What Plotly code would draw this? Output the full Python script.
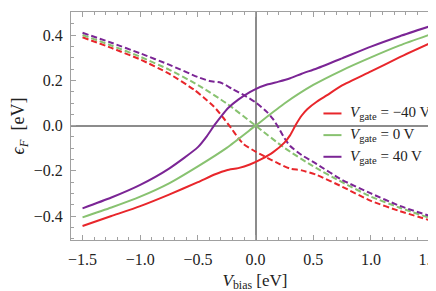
import plotly.graph_objects as go

# ---------------- data ----------------
gate_labels = ["−40", "0", "40"]
colors = ["#e8262b", "#88c270", "#7b2595"]

# solid curves
x_red_s = [-1.5, -1.25, -1.0, -0.75, -0.5, -0.35, -0.25, -0.15, -0.05, 0.05, 0.15, 0.25, 0.3, 0.35, 0.4, 0.45, 0.53, 0.62, 0.75, 1.0, 1.25, 1.5]
y_red_s = [-0.444, -0.400, -0.356, -0.305, -0.250, -0.215, -0.197, -0.188, -0.172, -0.148, -0.118, -0.075, -0.042, 0.005, 0.045, 0.074, 0.106, 0.135, 0.178, 0.240, 0.303, 0.362]

x_green_s = [-1.5, -1.25, -1.0, -0.75, -0.5, -0.25, 0.0, 0.25, 0.5, 0.75, 1.0, 1.25, 1.5]
y_green_s = [-0.406, -0.362, -0.314, -0.255, -0.180, -0.098, 0.0, 0.098, 0.180, 0.245, 0.302, 0.355, 0.401]

x_purple_s = [-1.5, -1.25, -1.0, -0.75, -0.5, -0.42, -0.36, -0.3, -0.24, -0.15, -0.05, 0.0, 0.1, 0.2, 0.3, 0.4, 0.53, 0.75, 1.0, 1.25, 1.5]
y_purple_s = [-0.366, -0.318, -0.262, -0.190, -0.095, -0.045, 0.0, 0.040, 0.077, 0.115, 0.148, 0.162, 0.182, 0.195, 0.210, 0.230, 0.253, 0.298, 0.350, 0.396, 0.438]

# dashed curves
x_red_d = [-1.5, -1.25, -1.0, -0.75, -0.53, -0.45, -0.36, -0.28, -0.21, -0.15, -0.1, 0.0, 0.1, 0.2, 0.3, 0.4, 0.53, 0.75, 1.0, 1.25, 1.5]
y_red_d = [0.391, 0.344, 0.293, 0.230, 0.158, 0.125, 0.084, 0.035, -0.012, -0.055, -0.083, -0.115, -0.142, -0.168, -0.190, -0.198, -0.218, -0.270, -0.333, -0.378, -0.417]

x_green_d = [-1.5, -1.25, -1.0, -0.75, -0.5, -0.25, 0.0, 0.25, 0.5, 0.75, 1.0, 1.25, 1.5]
y_green_d = [0.401, 0.355, 0.305, 0.248, 0.180, 0.098, 0.0, -0.098, -0.180, -0.250, -0.314, -0.363, -0.407]

x_purple_d = [-1.5, -1.25, -1.0, -0.75, -0.5, -0.4, -0.3, -0.2, -0.1, 0.0, 0.1, 0.15, 0.2, 0.25, 0.3, 0.4, 0.53, 0.75, 1.0, 1.25, 1.5]
y_purple_d = [0.411, 0.367, 0.320, 0.270, 0.215, 0.198, 0.190, 0.162, 0.135, 0.103, 0.060, 0.030, -0.010, -0.055, -0.090, -0.130, -0.170, -0.240, -0.300, -0.355, -0.398]

x_ticks = [-1.5, -1.0, -0.5, 0.0, 0.5, 1.0, 1.5]
y_ticks = [-0.4, -0.2, 0.0, 0.2, 0.4]

# ---------------- figure ----------------
FONT = "Liberation Serif, Times New Roman, serif"
TXT = "#222222"
fig = go.Figure()

solid = [(x_red_s, y_red_s), (x_green_s, y_green_s), (x_purple_s, y_purple_s)]
dashed = [(x_red_d, y_red_d), (x_green_d, y_green_d), (x_purple_d, y_purple_d)]

for (xs, ys), c in zip(dashed, colors):
    fig.add_trace(go.Scatter(x=xs, y=ys, mode="lines", showlegend=False,
                             line=dict(color=c, width=2, dash="6px,3px", shape="spline", smoothing=0.6)))
for (xs, ys), c in zip(solid, colors):
    fig.add_trace(go.Scatter(x=xs, y=ys, mode="lines", showlegend=False,
                             line=dict(color=c, width=2, shape="spline", smoothing=0.6)))

# manual legend
leg_y = [0.555, 0.46, 0.365]
for lab, c, yy in zip(gate_labels, colors, leg_y):
    fig.add_shape(type="line", xref="paper", yref="paper", x0=0.686, x1=0.735, y0=yy, y1=yy,
                  line=dict(color=c, width=2))
    fig.add_annotation(xref="paper", yref="paper", x=0.752, y=yy, xanchor="left", yanchor="middle",
                       showarrow=False, text=f"<i>V</i><sub>gate</sub> = {lab} V",
                       font=dict(family=FONT, size=15, color=TXT))

axis_common = dict(showline=True, linecolor="#a0a0a0", linewidth=1, mirror="ticks",
                   ticks="inside", ticklen=5, tickcolor="#a0a0a0", tickwidth=1,
                   showgrid=False, zeroline=True, zerolinecolor="#8c8c8c", zerolinewidth=1.5,
                   tickfont=dict(family=FONT, size=16, color=TXT))

fig.update_layout(
    width=436, height=291,
    margin=dict(l=63, r=5, t=4, b=59),
    paper_bgcolor="white", plot_bgcolor="white",
    font=dict(family=FONT, color=TXT),
    xaxis=dict(range=[-1.6, 1.59], tickvals=x_ticks, ticktext=[f"{v:.1f}".replace("-", "−") for v in x_ticks],
               minor=dict(dtick=0.1, ticklen=3, tickcolor="#a0a0a0", ticks="inside"),
               ticklabelstandoff=5,
               title=dict(text="<i>V</i><sub>bias</sub> [eV]", font=dict(family=FONT, size=17, color=TXT), standoff=6),
               **axis_common),
    yaxis=dict(range=[-0.506, 0.503], tickvals=y_ticks, ticktext=[f"{v:.1f}".replace("-", "−") for v in y_ticks],
               minor=dict(dtick=0.05, ticklen=3, tickcolor="#a0a0a0", ticks="inside"),
               ticklabelstandoff=4,
               title=dict(text="<i>ϵ</i><sub><i>F</i></sub>  [eV]", font=dict(family=FONT, size=18, color=TXT), standoff=4),
               **axis_common),
)

fig.write_html("out.html")
